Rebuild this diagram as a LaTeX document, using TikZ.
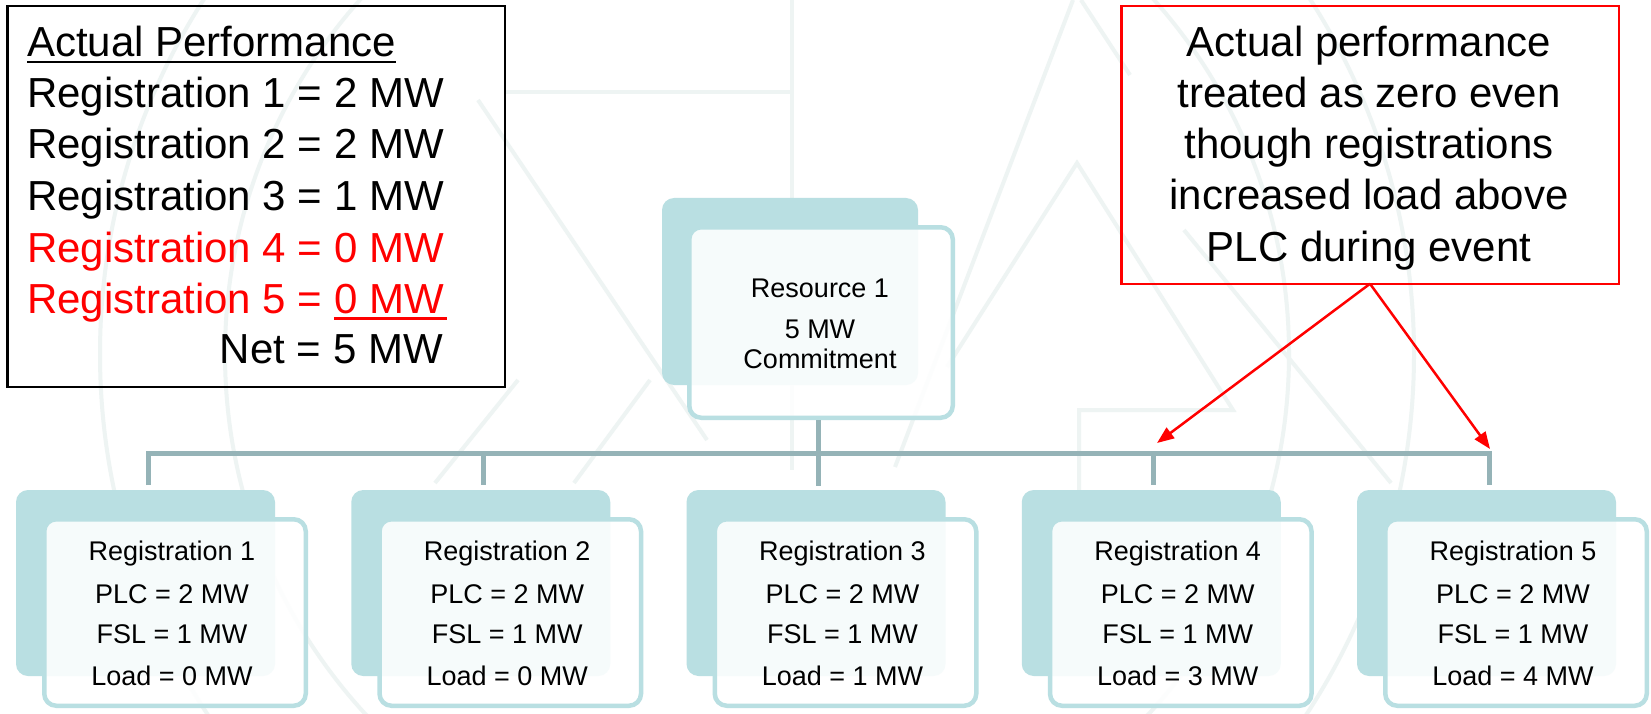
\documentclass[tikz,border=0pt]{standalone}
\usepackage{fontspec}
\setmainfont{Liberation Sans}
\usetikzlibrary{arrows.meta}
\definecolor{tealbox}{HTML}{B9DFE2}
\definecolor{busc}{HTML}{95B3B7}
\definecolor{wmc}{HTML}{EEF4F3}
\definecolor{redc}{HTML}{FF0000}
\begin{document}
\begin{tikzpicture}[x=1pt,y=-1pt,
  backbox/.style={fill=tealbox, draw=none, rounded corners=12pt, outer sep=0pt, inner sep=0pt},
  frontbox/.style={fill=white, fill opacity=0.88, draw=tealbox, line width=4.5pt, rounded corners=12pt, outer sep=0pt, inner sep=0pt},
  regtxt/.style={inner sep=0pt, anchor=base, font=\fontsize{27pt}{32pt}\selectfont},
  bigtxt/.style={inner sep=0pt, anchor=base west, font=\fontsize{42pt}{51pt}\selectfont},
  calltxt/.style={inner sep=0pt, anchor=base, font=\fontsize{42pt}{51pt}\selectfont},
  bus/.style={draw=busc, line width=5pt},
  callarrow/.style={draw=redc, line width=2.5pt, -{Triangle[length=17pt,width=13pt]}},
  wm/.style={draw=wmc, line width=4pt}]
\useasboundingbox (0,0) rectangle (1651,714);
\fill[white] (0,0) rectangle (1651,714);
% faint watermark
\draw[wm] (757,354) circle[radius=657pt];
\draw[wm] (757,354) circle[radius=532pt];
\draw[wm] (792,0) -- (792,470);
\draw[wm] (506,92) -- (792,92);
\draw[wm] (478,100) -- (707,440);
\draw[wm] (1073,0) -- (895,467);
\draw[wm] (947,367) -- (1077,163) -- (1233,410) -- (1079,410) -- (1079,490);
\draw[wm] (1184,230) -- (1391,483);
\draw[wm] (1081,0) -- (1130,75);
\draw[wm] (518,380) -- (435,483);
\draw[wm] (650,380) -- (574,483);
% actual performance box
\node[draw=black, line width=2.5pt, outer sep=0pt, inner sep=0pt, anchor=north west,
      minimum width=497.5pt, minimum height=380.5pt] (perf) at (7.25,6.25) {};
\node[bigtxt] (ptitle) at (27,57) {Actual Performance};
\draw[line width=2.2pt] ([yshift=-5pt]ptitle.base west) -- ([yshift=-5pt]ptitle.base east);
\node[bigtxt] (p1) at (27,108) {Registration 1 = 2 MW};
\node[bigtxt] (p2) at (27,159) {Registration 2 = 2 MW};
\node[bigtxt] (p3) at (27,211) {Registration 3 = 1 MW};
\node[bigtxt, text=redc] (p4) at (27,262) {Registration 4 = 0 MW};
\node[bigtxt, text=redc] (p5) at (27,313) {Registration 5 =};
\node[bigtxt, text=redc] (p5v) at ([xshift=11.7pt]p5.base east) {0 MW};
\draw[redc, line width=3pt] ([yshift=-5pt]p5v.base west) -- ([yshift=-5pt,xshift=3pt]p5v.base east);
\node[bigtxt, anchor=base east] (pnet) at (443,363) {Net = 5 MW};
% callout
\node[draw=redc, line width=2.5pt, outer sep=0pt, inner sep=0pt, anchor=north west,
      minimum width=497.5pt, minimum height=277.5pt] (callout) at (1121.25,6.25) {};
\node[calltxt] (c1) at (1369,57) {Actual performance};
\node[calltxt] (c2) at (1369,108) {treated as zero even};
\node[calltxt] (c3) at (1369,159) {though registrations};
\node[calltxt] (c4) at (1369,210) {increased load above};
\node[calltxt] (c5) at (1369,261) {PLC during event};
% resource box
\node[backbox, anchor=north west, minimum width=256pt, minimum height=187pt] (resback) at (662,198) {};
\node[frontbox, anchor=north west, minimum width=263.5pt, minimum height=190.5pt] (res) at (689.25,227.25) {};
\node[regtxt] (rname) at (820,297) {Resource 1};
\node[regtxt] (rmw) at (820,338) {5 MW};
\node[regtxt] (rcom) at (820,368) {Commitment};
% registrations
\foreach \i/\ld in {1/0,2/0,3/1,4/3,5/4}{
  \pgfmathsetmacro{\dx}{(\i-1)*335.25}
  \node[backbox, anchor=north west, minimum width=259pt, minimum height=186pt] (back\i) at ({16+\dx},490) {};
  \node[frontbox, anchor=north west, minimum width=261.5pt, minimum height=186.5pt] (front\i) at ({44.25+\dx},519.25) {};
  \node[regtxt] (name\i) at ({172+\dx},560) {Registration \i};
  \node[regtxt] (plc\i) at ({172+\dx},603) {PLC = 2 MW};
  \node[regtxt] (fsl\i) at ({172+\dx},643) {FSL = 1 MW};
  \node[regtxt] (load\i) at ({172+\dx},685) {Load = \ld\ MW};
  \coordinate (b\i) at ({148+\dx},453);
}
% connectors
\draw[bus, shorten <=5pt, shorten >=5pt] (b1 |- back1.north) -- (b1) -- (b5) -- (b5 |- back5.north);
\foreach \i in {2,4}{
  \draw[bus, shorten >=5pt] (b\i) -- (b\i |- back\i.north);
}
\draw[bus, shorten >=4pt] ([yshift=-2.25pt]b3 |- res.south) -- (b3 |- back3.north);
% callout arrows
\coordinate (a4) at (1157,443);
\coordinate (a5) at (1490,449);
\draw[callarrow] (callout.south) -- (a4);
\draw[callarrow] (callout.south) -- (a5);
\end{tikzpicture}
\end{document}
